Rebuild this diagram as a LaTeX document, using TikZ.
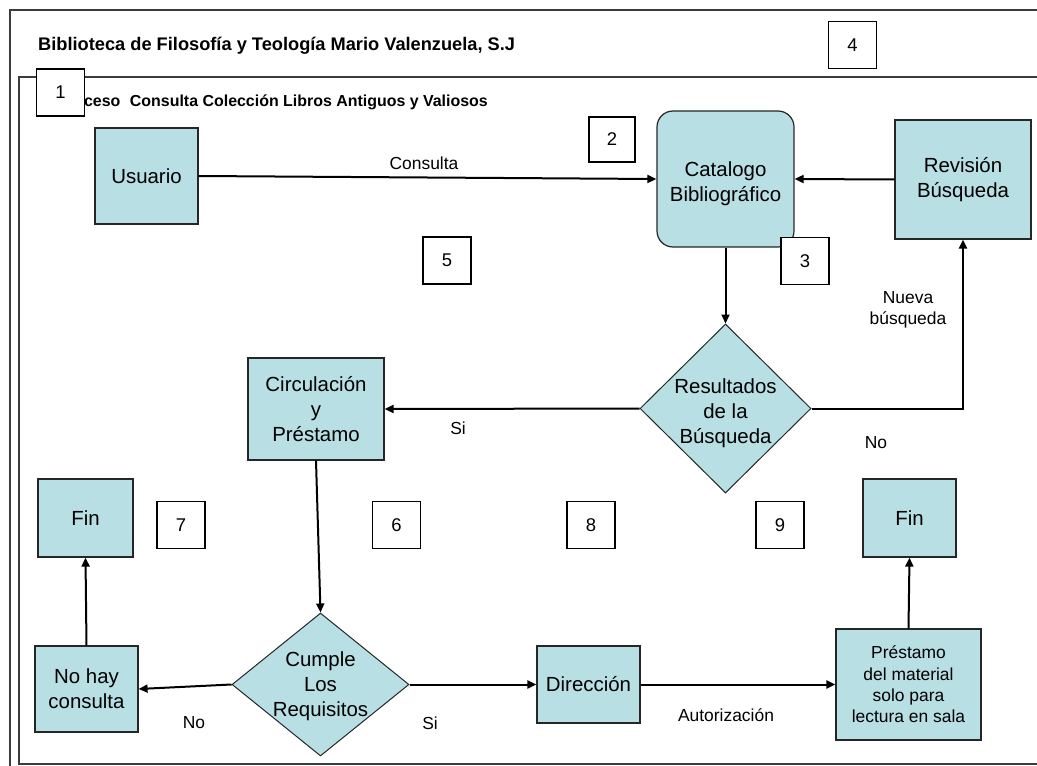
\documentclass[tikz,border=0pt]{standalone}
\usepackage{fontspec}
\setmainfont{Liberation Sans}
\usetikzlibrary{arrows.meta,shapes.geometric}
\definecolor{boxfill}{RGB}{184,223,227}
\definecolor{framecol}{RGB}{60,60,60}
\newcommand{\fsz}[2]{\fontsize{#1}{#2}\selectfont}
\tikzset{
  proc/.style={draw=black!85, fill=boxfill, line width=1.2bp, inner sep=0pt,
    align=center, font=\fsz{20.5}{25}},
  decision/.style={diamond, draw=black!85, fill=boxfill, line width=1bp, inner sep=0pt},
  dtext/.style={align=center, font=\fsz{20.5}{25}, inner sep=0pt},
  num/.style={draw=black, fill=white, line width=1.3bp, minimum width=48bp,
    minimum height=47bp, inner sep=0pt, font=\fsz{18.5}{22}},
  lbl/.style={font=\fsz{17.5}{21}, inner sep=0pt, align=center},
  flow/.style={line width=2bp, -{Triangle[length=9bp,width=8bp]}},
  frame/.style={draw=framecol, line width=1.5bp}
}
\begin{document}
\begin{tikzpicture}[x=1bp,y=-1bp]
\useasboundingbox (0,0) rectangle (1037,766);

% outer and inner frames (open to the right)
\draw[frame] (1037,10) -- (10,10) -- (10,766);
\draw[frame] (1037,77) -- (19,77) -- (19,764) -- (1037,764);

% headings
\node[anchor=west, inner sep=0pt, font=\fsz{18.3}{22}\bfseries] (title) at (38,46)
  {Biblioteca de Filosofía y Teología Mario Valenzuela, S.J};
\node[anchor=east, inner sep=0pt, font=\fsz{16}{19}\bfseries] (subtitle) at (488,102)
  {Proceso\hspace{0.6em}Consulta Colección Libros Antiguos y Valiosos};

% process boxes
\node[proc, minimum width=103bp, minimum height=96bp] (usuario) at (146.5,176) {Usuario};
\node[proc, rounded corners=16bp, minimum width=137bp, minimum height=136bp] (catalogo) at (725.5,179) {};
\node[dtext] (catalogoT) at (725.5,184) {Catalogo\\Bibliográfico};
\node[proc, minimum width=136bp, minimum height=119bp] (revision) at (963,179.5) {Revisión\\Búsqueda};
\node[proc, minimum width=136bp, minimum height=102bp] (circ) at (316,409) {Circulación\\y\\Préstamo};
\node[proc, minimum width=103bp, minimum height=86bp] (nohay) at (86.5,689) {No hay\\consulta};
\node[proc, minimum width=95bp, minimum height=78bp] (fin1) at (85.5,518) {Fin};
\node[proc, minimum width=93bp, minimum height=78bp] (fin2) at (909.5,518) {Fin};
\node[proc, minimum width=103bp, minimum height=77bp] (direccion) at (588.5,684.5) {Dirección};
\node[proc, minimum width=145bp, minimum height=111bp, font=\fsz{17.5}{21.5}] (prestamo) at (908.5,684.5)
  {Préstamo\\del material\\solo para\\lectura en sala};

% decisions
\node[decision, minimum width=171bp, minimum height=169bp] (res) at (725.5,408.5) {};
\node[dtext] (resT) at (725.5,413) {Resultados\\de la\\Búsqueda};
\node[decision, minimum width=177bp, minimum height=143bp] (cumple) at (320.5,684.5) {};
\node[dtext] (cumpleT) at (320.5,686) {Cumple\\Los\\Requisitos};

% connectors
\draw[flow] (usuario.east) -- (catalogo.west);
\draw[flow] (revision.west) -- (catalogo.east);
\draw[flow] (catalogo.south) -- (res.north);
\draw[flow] (res.east) -| (revision.south);
\draw[flow] (res.west) -- (circ.east);
\draw[flow] (circ.south) -- (cumple.north);
\draw[flow] (cumple.west) -- (nohay.east);
\draw[flow] (nohay.north) -- (fin1.south);
\draw[flow] (cumple.east) -- (direccion.west);
\draw[flow] (direccion.east) -- (prestamo.west);
\draw[flow] (prestamo.north) -- (fin2.south);

% connector labels
\node[lbl] (lConsulta) at (424,163) {Consulta};
\node[lbl] (lNueva) at (908,310) {Nueva\\búsqueda};
\node[lbl] (lNo1) at (876,443) {No};
\node[lbl] (lSi1) at (458,428) {Si};
\node[lbl] (lNo2) at (194,723) {No};
\node[lbl] (lSi2) at (430,723) {Si};
\node[lbl] (lAut) at (726,715) {Autorización};

% numbered markers
\node[num] (n1) at (60.5,92.5) {1};
\node[num, minimum width=46bp, minimum height=45bp] (n2) at (612,139.5) {2};
\node[num] (n3) at (805,261) {3};
\node[num] (n4) at (852.5,45) {4};
\node[num] (n5) at (447,260.5) {5};
\node[num] (n6) at (396.5,525) {6};
\node[num] (n7) at (181,525) {7};
\node[num] (n8) at (591,525) {8};
\node[num] (n9) at (780,525) {9};
\end{tikzpicture}
\end{document}
